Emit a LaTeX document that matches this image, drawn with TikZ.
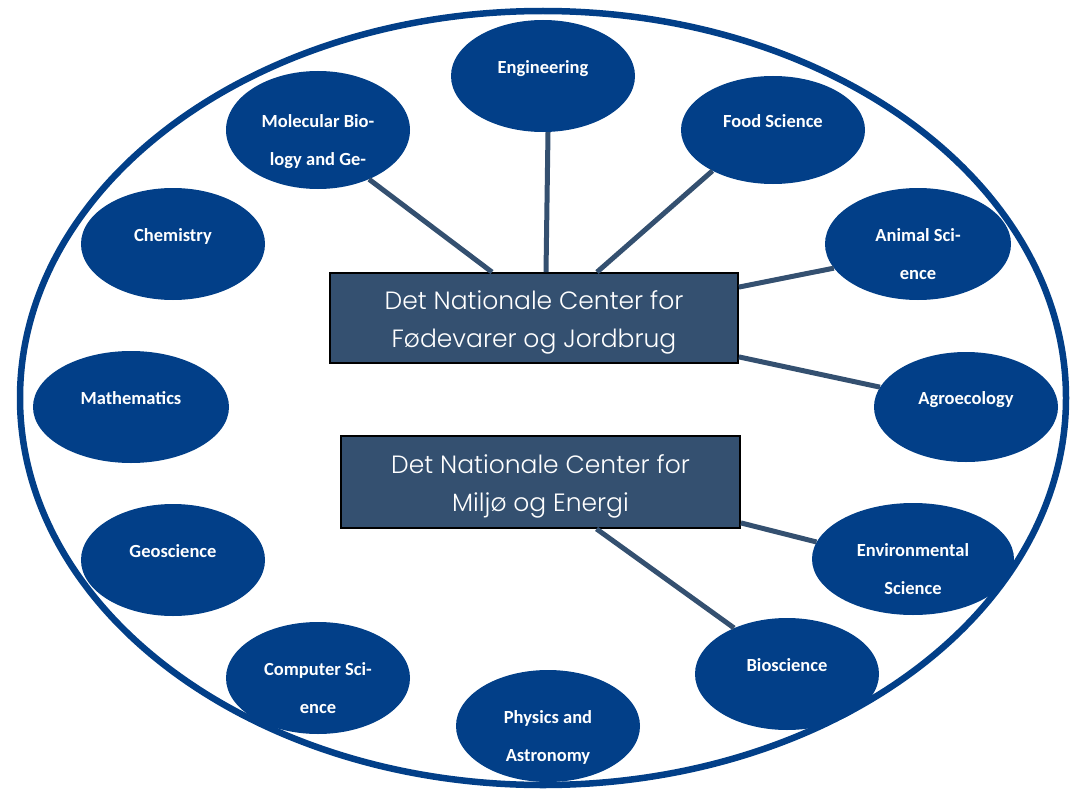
\documentclass[tikz,border=0pt]{standalone}
\usepackage{fontspec}
\setmainfont{Carlito}
\IfFontExistsTF{Poppins Light}{\newfontfamily\boxfont{Poppins Light}}{\newfontfamily\boxfont{Poppins}}
\usetikzlibrary{shapes.geometric}
\definecolor{fieldblue}{RGB}{2,63,136}
\definecolor{slate}{RGB}{52,80,112}
\definecolor{slateline}{RGB}{52,80,112}
\newcommand\ftxt[2]{\raisebox{-16pt}[0pt][0pt]{\begin{tabular}{@{}c@{}}#1\\[16pt]#2\mbox{}\end{tabular}}}
\newcommand\btxt[2]{\raisebox{-9pt}[0pt][0pt]{\begin{tabular}{@{}c@{}}#1\\#2\end{tabular}}}
\begin{document}
\begin{tikzpicture}[x=1pt,y=-1pt,
  bigring/.style={ellipse,draw=fieldblue,line width=6.5pt,inner sep=0pt,
    minimum width=1046pt,minimum height=774pt},
  field/.style={ellipse,fill=fieldblue,inner sep=0pt,text=white,
    font=\bfseries\fontsize{18.5}{22}\selectfont,
    minimum width=184pt,minimum height=112pt},
  centerbox/.style={rectangle,fill=slate,draw=black,line width=1.8pt,text=white,
    inner sep=0pt,font=\boxfont\fontsize{25}{38}\selectfont},
  link/.style={draw=slateline,line width=5pt}]
\useasboundingbox (0,0) rectangle (1082,792);

\node[bigring] (ring) at (543,398) {};

\node[field] (eng) at (543,76) {\ftxt{Engineering}{}};
\node[field,minimum height=118pt] (mol) at (318,130) {\ftxt{Molecular Bio-}{logy and Ge-}};
\node[field,minimum height=108pt] (food) at (773,130) {\ftxt{Food Science}{}};
\node[field] (chem) at (173,244) {\ftxt{Chemistry}{}};
\node[field,minimum width=186pt] (ani) at (918,244) {\ftxt{Animal Sci-}{ence}};
\node[field,minimum width=196pt] (math) at (131,407) {\ftxt{Mathematics}{}};
\node[field,minimum height=110pt] (agro) at (966,407) {\ftxt{Agroecology}{}};
\node[field] (geo) at (173,560) {\ftxt{Geoscience}{}};
\node[field,minimum width=202pt] (env) at (913,559) {\ftxt{Environmental}{Science}};
\node[field] (comp) at (318,678) {\ftxt{Computer Sci-}{ence}};
\node[field] (bio) at (787,674) {\ftxt{Bioscience}{}};
\node[field] (phys) at (548,726) {\ftxt{Physics and}{Astronomy}};

\node[centerbox,minimum width=408pt,minimum height=90pt] (box1) at (534,318)
  {\btxt{Det Nationale Center for}{Fødevarer og Jordbrug}};
\node[centerbox,minimum width=399pt,minimum height=92pt] (box2) at (540.5,482)
  {\btxt{Det Nationale Center for}{Miljø og Energi}};

\draw[link] (mol.-44.5) -- ([xshift=-42pt]box1.north);
\draw[link] ([xshift=5pt]eng.south) -- ([xshift=12pt]box1.north);
\draw[link] (food.214.5) -- ([xshift=63pt]box1.north);
\draw[link] ([yshift=-15pt]box1.north east) -- (ani.196.8);
\draw[link] ([yshift=7pt]box1.south east) -- (agro.167);
\draw[link] ([yshift=6pt]box2.south east) -- (env.170);
\draw[link] ([xshift=56pt]box2.south) -- (bio.139.5);
\end{tikzpicture}
\end{document}
